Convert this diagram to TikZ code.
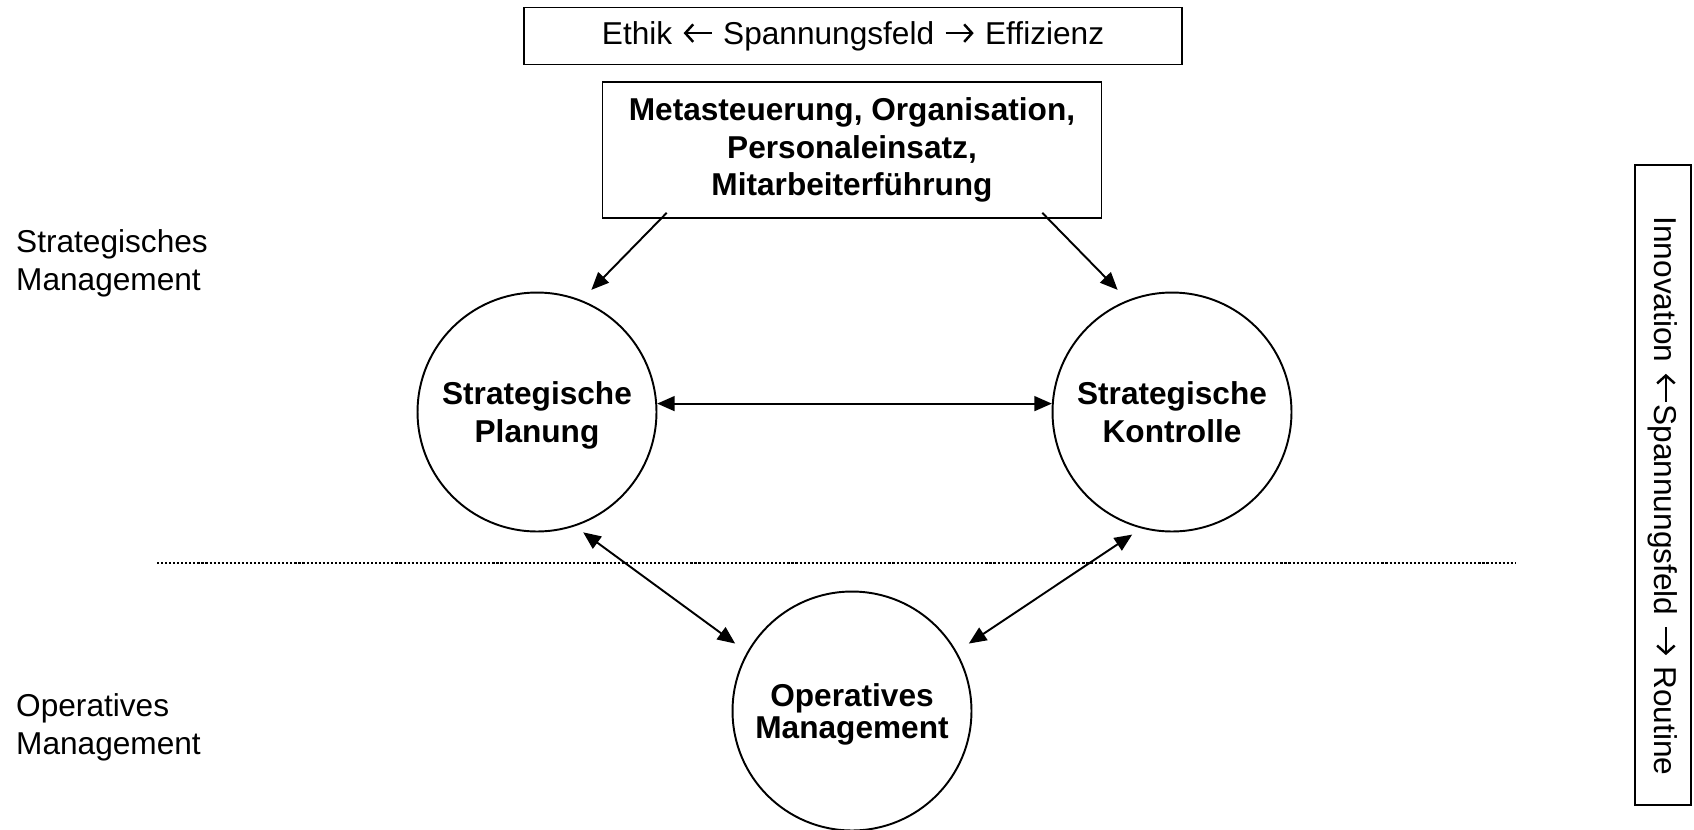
\documentclass[tikz,border=0pt]{standalone}
\usepackage{fontspec}
\setmainfont{Liberation Sans}
\usetikzlibrary{arrows.meta,calc}

% Pfeile im Text
\newcommand{\pfeillinks}{\tikz[baseline={(0,-6.3pt)}]{\path (0,0) (19pt,0);
  \draw[line width=1.4pt, {Straight Barb[length=4.5pt,width=10pt]}-] (1.5pt,0) -- (17.5pt,0);}}
\newcommand{\pfeilrechts}{\tikz[baseline={(0,-6.3pt)}]{\path (0,0) (19pt,0);
  \draw[line width=1.4pt, -{Straight Barb[length=4.5pt,width=10pt]}] (1.5pt,0) -- (17.5pt,0);}}

\tikzset{
  schrift/.style={font=\fontsize{18}{21.5}\selectfont},
  fett/.style={font=\fontsize{18}{21.5}\selectfont\bfseries},
  rahmen/.style={draw, line width=1pt, align=center, inner sep=0pt},
  kreis/.style={draw, circle, line width=1.1pt, align=center, fett, text depth=0pt,
    minimum size=4.78cm, inner sep=0pt},
  pfeil/.style={line width=1.1pt, -{Triangle[length=10pt,width=8.5pt]}},
  doppelpfeil/.style={line width=1.1pt,
    {Triangle[length=10pt,width=8.5pt]}-{Triangle[length=10pt,width=8.5pt]}},
  ebene/.style={anchor=west, align=left}
}

\begin{document}
\begin{tikzpicture}[x=0.02cm, y=-0.02cm, schrift]
\useasboundingbox (0,0) rectangle (1694,829);

% === Spannungsfelder ===
\node[rahmen, minimum width=13.16cm, minimum height=1.14cm] (ethik) at (853,36)
  {Ethik \pfeillinks\ Spannungsfeld \pfeilrechts\ Effizienz};
\node[rahmen, rotate=-90, minimum width=12.8cm, minimum height=1.12cm] (innovation) at (1663,485)
  {\hspace*{0.44cm}Innovation \pfeillinks Spannungsfeld \pfeilrechts\ Routine};

% === Metasteuerung ===
\node[rahmen, fett, minimum width=9.98cm, minimum height=2.72cm] (meta) at (852,150)
  {Metasteuerung, Organisation,\\Personaleinsatz,\\Mitarbeiterführung};

% === Kreise ===
\node[kreis] (planung) at (537,412) {Strategische\\Planung};
\node[kreis] (kontrolle) at (1172,412) {Strategische\\Kontrolle};
\node[kreis, font=\fontsize{18}{18.2}\selectfont\bfseries] (operativ) at (852,711)
  {Operatives\\Management};

% === Ebenen ===
\node[ebene] (strat) at (10,263) {Strategisches\\Management};
\node[ebene] (oper) at (10,727) {Operatives\\Management};
\coordinate (trennlinks) at (157,563);
\coordinate (trennrechts) at (1516,563);
\draw[line width=1.2pt, dash pattern=on 1.2pt off 1.1pt] (trennlinks) -- (trennrechts);

% === Pfeile ===
\draw[pfeil] ($(meta.south west)+(65,-6)$) -- ($(planung.66)!-0.11!(planung)$);
\draw[pfeil] ($(meta.south east)+(-60,-6)$) -- ($(kontrolle.114)!-0.11!(kontrolle)$);
\draw[doppelpfeil] (planung.4) -- (kontrolle.176);
\draw[doppelpfeil] ($(planung.-69)!-0.07!(planung)$) -- ($(operativ.150)!-0.12!(operativ)$);
\draw[doppelpfeil] ($(kontrolle.-108)!-0.07!(kontrolle)$) -- ($(operativ.30)!-0.12!(operativ)$);

\end{tikzpicture}
\end{document}
